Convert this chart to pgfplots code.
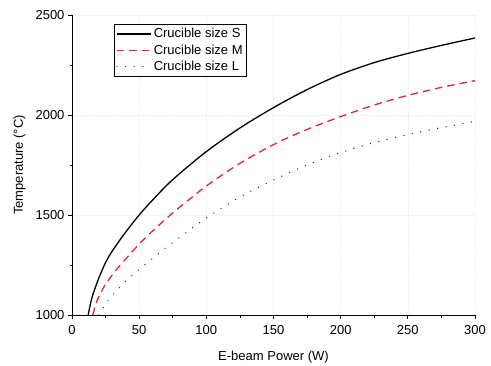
\documentclass[border=0pt]{standalone}
\usepackage{fontspec}
\setmainfont{Liberation Sans}
\usepackage{pgfplots}
\pgfplotsset{compat=1.18}
\definecolor{cred}{RGB}{230,35,55}
\definecolor{cblue}{RGB}{40,40,140}
\begin{document}
\begin{tikzpicture}
\begin{axis}[name=ax,
  scale only axis, width=403pt, height=300pt,
  xmin=0, xmax=300, ymin=1000, ymax=2500,
  axis x line*=bottom, axis y line*=left,
  axis line style={-, line width=0.8pt},
  xtick={0,50,...,300}, ytick={1000,1500,2000,2500},
  minor x tick num=1, minor y tick num=1,
  tick align=outside,
  major tick length=4pt, minor tick length=2.5pt,
  tick style={line width=0.8pt, black},
  /pgf/number format/assume math mode=true,
  /pgf/number format/set thousands separator={},
  ticklabel style={font=\fontsize{13}{15}\selectfont},
  xticklabel style={yshift=-3pt},
  xlabel={E-beam Power (W)}, ylabel={Temperature (°C)},
  label style={font=\fontsize{13}{15}\selectfont},
  xlabel style={yshift=-9pt},
  ylabel style={yshift=3pt},
  grid=major, major grid style={gray!12, densely dotted},
  legend style={at={(0.104,0.97)}, anchor=north west, draw=black, line width=0.8pt,
    font=\fontsize{13}{15}\selectfont, nodes={font=\fontsize{13}{15}\selectfont},
    inner sep=2pt, row sep=1.5pt, cells={anchor=west}},
  legend cell align=left,
  legend image code/.code={\draw[#1, line width=1.3pt] (0cm,0cm) -- (1.2cm,0cm);},
]
\addplot[black, line width=1.3pt, smooth] coordinates {
(12,1000)(15,1090)(20,1185)(25,1262)(30,1320)(40,1415)(50,1500)(60,1575)(75,1677)(100,1817)(125,1935)(150,2037)(175,2127)(200,2203)(225,2262)(250,2308)(275,2348)(300,2385)};
\addlegendentry{Crucible size S}
\addplot[cred, line width=1.3pt, dash pattern=on 7.5pt off 5pt, smooth] coordinates {
(15.5,1000)(18,1060)(21,1105)(25,1155)(30,1200)(35,1242)(40,1280)(50,1355)(60,1420)(75,1510)(100,1645)(125,1758)(150,1852)(175,1928)(200,1992)(225,2050)(250,2098)(275,2138)(300,2172)};
\addlegendentry{Crucible size M}
\addplot[cblue, line width=1.4pt, dash pattern=on 0.1pt off 8.5pt, line cap=round, smooth] coordinates {
(20,1000)(25,1055)(30,1098)(40,1170)(50,1228)(60,1283)(75,1362)(100,1485)(125,1590)(150,1675)(175,1750)(200,1812)(225,1862)(250,1902)(275,1937)(300,1968)};
\addlegendentry{Crucible size L}
\end{axis}
\pgfresetboundingbox
\path[use as bounding box] ([shift={(-72pt,-50pt)}]ax.south west) rectangle ([shift={(16pt,15pt)}]ax.north east);
\end{tikzpicture}
\end{document}
